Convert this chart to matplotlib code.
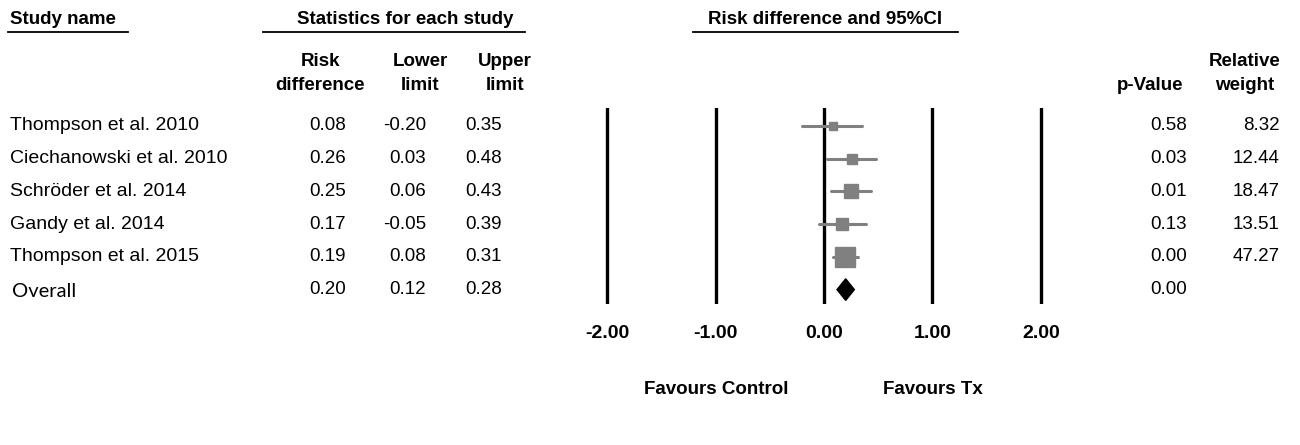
import matplotlib
matplotlib.use('Agg')
import matplotlib.pyplot as plt
import matplotlib.transforms as mtransforms
import numpy as np

# Daten
studien = ["Thompson et al. 2010", "Ciechanowski et al. 2010", "Schröder et al. 2014",
           "Gandy et al. 2014", "Thompson et al. 2015"]
risk_diff = [0.08, 0.26, 0.25, 0.17, 0.19]
lower = [-0.20, 0.03, 0.06, -0.05, 0.08]
upper = [0.35, 0.48, 0.43, 0.39, 0.31]
p_werte = [0.58, 0.03, 0.01, 0.13, 0.00]
gewichte = [8.32, 12.44, 18.47, 13.51, 47.27]

gesamt_rd = 0.20
gesamt_lower = 0.12
gesamt_upper = 0.28
gesamt_p = 0.00

ticks = [-2.0, -1.0, 0.0, 1.0, 2.0]

W, H = 1300, 445
plt.rcParams['font.family'] = ['Liberation Sans', 'DejaVu Sans']
fig = plt.figure(figsize=(W / 100, H / 100), dpi=100)

# Forest-Achse: x -2.25..2.25 auf Pixel 580..1068, Zeilen auf 108..304
ax = fig.add_axes([580 / W, 1 - 304 / H, (1068 - 580) / W, (304 - 108) / H])
ax.set_xlim(-2.25, 2.25)
ax.set_ylim(5.44, -0.55)
ax.axis('off')

for t in ticks:
    ax.axvline(t, color='black', linewidth=2.4, solid_capstyle='round', zorder=1)

grau = '#808080'
for i, (rd, lo, hi, w) in enumerate(zip(risk_diff, lower, upper, gewichte)):
    ax.plot([lo, hi], [i, i], color=grau, linewidth=2.2, solid_capstyle='round', zorder=2)
    seite_px = 3.05 * np.sqrt(w)
    ax.plot(rd, i, marker='s', color=grau, markersize=seite_px * 0.72, zorder=3)

# Raute fuer Gesamteffekt
n = len(studien)
h = 0.33
ax.fill([gesamt_lower, gesamt_rd, gesamt_upper, gesamt_rd],
        [n, n - h, n, n + h], color='black', zorder=3)

# Text mit x in Pixel, y in Zeilen
tr = mtransforms.blended_transform_factory(fig.transFigure, ax.transData)

def px(x):
    return x / W

fs = 13.5
alle_namen = studien + ["Overall"]
alle_rd = risk_diff + [gesamt_rd]
alle_lo = lower + [gesamt_lower]
alle_hi = upper + [gesamt_upper]
alle_p = p_werte + [gesamt_p]

for i, name in enumerate(alle_namen):
    if name == "Overall":
        fig.text(px(12), i + 0.05, name, transform=tr, fontsize=14.5, family=['Lato', 'DejaVu Sans'],
                 va='center', ha='left')
    else:
        fig.text(px(10), i, name, transform=tr, fontsize=14, va='center', ha='left')
    fig.text(px(346), i, f"{alle_rd[i]:.2f}", transform=tr, fontsize=fs, va='center', ha='right')
    fig.text(px(426), i, f"{alle_lo[i]:.2f}", transform=tr, fontsize=fs, va='center', ha='right')
    fig.text(px(502), i, f"{alle_hi[i]:.2f}", transform=tr, fontsize=fs, va='center', ha='right')
    fig.text(px(1187), i, f"{alle_p[i]:.2f}", transform=tr, fontsize=fs, va='center', ha='right')

for i, w in enumerate(gewichte):
    fig.text(px(1280), i, f"{w:.2f}", transform=tr, fontsize=fs, va='center', ha='right')

# Kopfzeilen
fk = 13.5

def kopf(x, y, s, ha='center'):
    fig.text(px(x), 1 - y / H, s, fontsize=fk, fontweight='bold', ha=ha, va='center')

def linie(x0, x1, y):
    fig.add_artist(plt.Line2D([px(x0), px(x1)], [1 - y / H, 1 - y / H],
                              color='black', linewidth=1.3, transform=fig.transFigure))

kopf(10, 20, "Study name", ha='left')
linie(8, 128, 32)
kopf(405, 20, "Statistics for each study")
linie(263, 525, 32)
kopf(825, 20, "Risk difference and 95%CI")
linie(693, 958, 32)

kopf(320, 61, "Risk")
kopf(320, 85, "difference")
kopf(420, 61, "Lower")
kopf(420, 85, "limit")
kopf(505, 61, "Upper")
kopf(505, 85, "limit")
kopf(1150, 85, "p-Value")
kopf(1245, 61, "Relative")
kopf(1245, 85, "weight")

# Achsenbeschriftung
tr_x = mtransforms.blended_transform_factory(ax.transData, fig.transFigure)
for t in ticks:
    ax.text(t, 1 - 334 / H, f"{t:.2f}", transform=tr_x,
            fontsize=14, fontweight='bold', ha='center', va='center')

fig.text(px(716), 1 - 390 / H, "Favours Control", fontsize=fk, fontweight='bold', ha='center', va='center')
fig.text(px(933), 1 - 390 / H, "Favours Tx", fontsize=fk, fontweight='bold', ha='center', va='center')

fig.savefig('out.png', dpi=100, facecolor='white')
